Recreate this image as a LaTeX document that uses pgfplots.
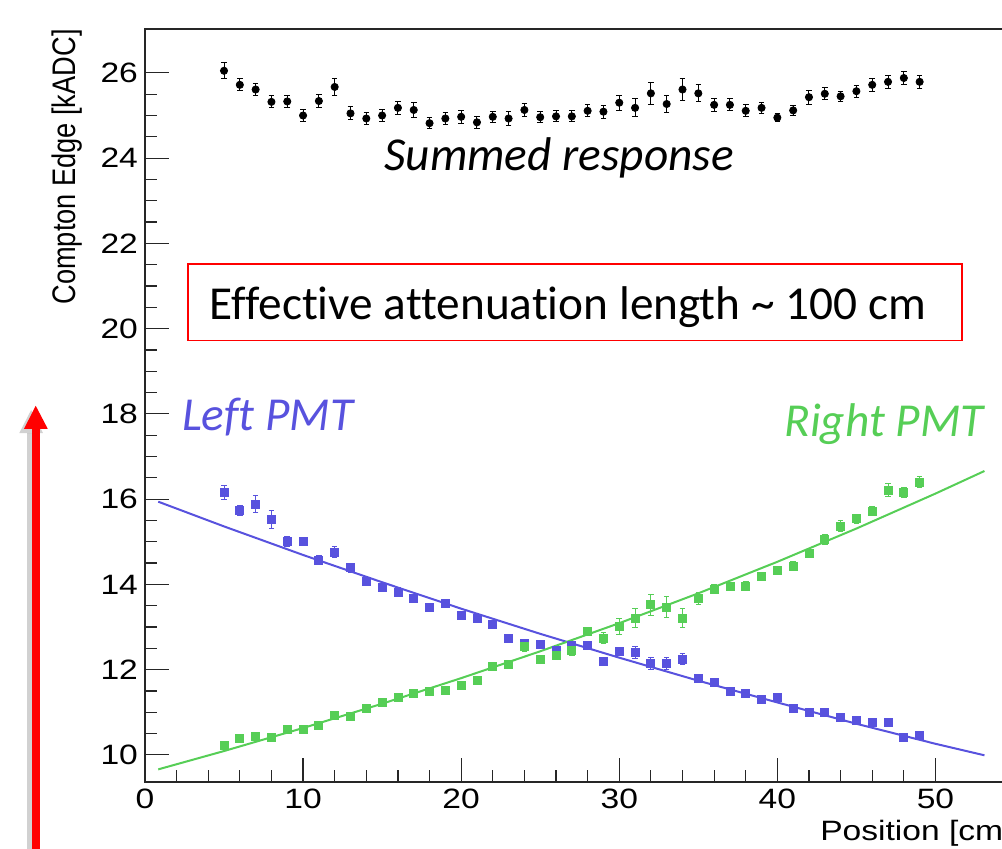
\documentclass[border=0pt]{standalone}
\usepackage{pgfplots}
\pgfplotsset{compat=1.18}
\usepackage{pgfplotstable}
\usepackage{fontspec}
\usepackage{graphicx}
\setmainfont{Liberation Sans}
\newfontfamily\rootfont[FakeStretch=1.2]{Liberation Sans}
\newfontfamily\calib[Ligatures={NoCommon,NoRare,NoContextual}]{Carlito}
\definecolor{lblue}{RGB}{88,82,222}
\definecolor{lgreen}{RGB}{86,206,86}

\pgfplotstableread{
x y e
5 26.05 0.19
6 25.72 0.14
7 25.61 0.15
8 25.32 0.14
9 25.33 0.14
10 25.00 0.13
11 25.34 0.16
12 25.67 0.19
13 25.05 0.15
14 24.93 0.13
15 25.00 0.14
16 25.18 0.16
17 25.13 0.17
18 24.82 0.13
19 24.93 0.14
20 24.97 0.15
21 24.84 0.14
22 24.97 0.13
23 24.93 0.16
24 25.13 0.16
25 24.96 0.13
26 24.98 0.13
27 24.98 0.13
28 25.11 0.14
29 25.09 0.15
30 25.30 0.18
31 25.18 0.21
32 25.52 0.26
33 25.27 0.20
34 25.61 0.26
35 25.52 0.20
36 25.25 0.15
37 25.25 0.14
38 25.11 0.14
39 25.18 0.13
40 24.95 0.10
41 25.12 0.12
42 25.43 0.16
43 25.51 0.14
44 25.45 0.12
45 25.57 0.14
46 25.72 0.15
47 25.79 0.16
48 25.88 0.16
49 25.79 0.15
}\summed

\pgfplotstableread{
x y e
5 16.16 0.17
6 15.74 0.12
7 15.88 0.20
8 15.53 0.21
9 15.01 0.12
10 15.01 0.10
11 14.57 0.10
12 14.76 0.13
13 14.39 0.10
14 14.08 0.07
15 13.93 0.07
16 13.82 0.10
17 13.68 0.08
18 13.46 0.07
19 13.56 0.08
20 13.28 0.07
21 13.21 0.08
22 13.07 0.07
23 12.73 0.07
24 12.62 0.07
25 12.60 0.06
26 12.46 0.07
27 12.56 0.06
28 12.57 0.06
29 12.20 0.06
30 12.43 0.10
31 12.41 0.14
32 12.15 0.14
33 12.15 0.14
34 12.25 0.14
35 11.80 0.07
36 11.70 0.06
37 11.50 0.05
38 11.45 0.05
39 11.29 0.05
40 11.35 0.05
41 11.10 0.05
42 11.00 0.05
43 11.00 0.04
44 10.88 0.04
45 10.80 0.04
46 10.77 0.04
47 10.77 0.03
48 10.40 0.04
49 10.45 0.04
}\leftpmt

\pgfplotstableread{
x y e
5 10.23 0.05
6 10.39 0.04
7 10.43 0.04
8 10.42 0.04
9 10.60 0.04
10 10.60 0.05
11 10.69 0.05
12 10.92 0.05
13 10.91 0.05
14 11.08 0.05
15 11.24 0.06
16 11.36 0.06
17 11.45 0.06
18 11.48 0.06
19 11.52 0.06
20 11.62 0.07
21 11.75 0.07
22 12.08 0.07
23 12.13 0.07
24 12.54 0.12
25 12.24 0.07
26 12.33 0.08
27 12.44 0.10
28 12.89 0.10
29 12.74 0.12
30 13.01 0.18
31 13.21 0.22
32 13.52 0.24
33 13.47 0.24
34 13.21 0.22
35 13.66 0.14
36 13.89 0.10
37 13.96 0.09
38 13.96 0.10
39 14.18 0.10
40 14.33 0.10
41 14.43 0.10
42 14.72 0.10
43 15.06 0.12
44 15.37 0.12
45 15.54 0.10
46 15.72 0.10
47 16.21 0.16
48 16.16 0.12
49 16.40 0.13
}\rightpmt

\begin{document}
\begin{tikzpicture}
\begin{axis}[
  scale only axis, width=434.8pt, height=376.4pt,
  xmin=0, xmax=55, ymin=9.37, ymax=27.03,
  clip=false,
  axis line style={line width=0.8pt, black!85},
  xtick={0,10,...,50}, minor x tick num=4,
  ytick={10,12,...,26}, minor y tick num=3,
  tick align=inside, xtick pos=bottom, ytick pos=left,
  major tick length=12pt, minor tick length=6pt,
  tick style={line width=0.6pt, black!85},
  /pgf/number format/assume math mode=true,
  ticklabel style={font=\rootfont\fontsize{14}{16}\selectfont},
  error bars/error bar style={line width=0.5pt},
  error bars/error mark options={line width=0.5pt, mark size=1.4pt, rotate=90},
]
% fit lines
\addplot[lblue, line width=1pt, no marks] coordinates {
 (0.84,15.94) (5,15.36) (10,14.69) (15,14.05) (20,13.43) (25,12.84)
 (30,12.28) (35,11.74) (40,11.23) (45,10.73) (50,10.26) (53.1,9.99)};
\addplot[lgreen, line width=1pt, no marks] coordinates {
 (0.84,9.66) (5,10.09) (10,10.63) (15,11.20) (20,11.80) (25,12.43)
 (30,13.09) (35,13.79) (40,14.53) (45,15.31) (50,16.13) (53.1,16.66)};
% data
\addplot[only marks, mark=*, mark size=1.8pt, black,
  error bars/.cd, y dir=both, y explicit]
  table[x=x, y=y, y error=e] {\summed};
\addplot[only marks, mark=square*, mark size=2pt, lblue,
  error bars/.cd, y dir=both, y explicit]
  table[x=x, y=y, y error=e] {\leftpmt};
\addplot[only marks, mark=square*, mark size=2pt, lgreen,
  error bars/.cd, y dir=both, y explicit]
  table[x=x, y=y, y error=e] {\rightpmt};
% annotations
\node[anchor=base west, inner sep=0, font=\calib\itshape\fontsize{23.65}{26}\selectfont]
  at (axis cs:15.12,23.72) {Summed response};
\draw[red, line width=0.7pt] (axis cs:2.72,21.512) rectangle (axis cs:51.68,19.72);
\node[anchor=base west, inner sep=0, font=\calib\fontsize{23.65}{26}\selectfont]
  at (axis cs:4.07,20.222) {Effective attenuation length \textasciitilde{} 100 cm};
\node[anchor=base west, inner sep=0, text=lblue, font=\calib\itshape\fontsize{23.65}{26}\selectfont]
  at (axis cs:2.32,17.60) {Left PMT};
\node[anchor=base west, inner sep=0, text=lgreen, font=\calib\itshape\fontsize{23.65}{26}\selectfont]
  at (axis cs:40.42,17.467) {Right PMT};
% axis titles
\node[anchor=base west, inner sep=0, font=\rootfont\fontsize{14}{16}\selectfont]
  at (axis cs:42.69,7.98) {Position [cm]};
\node[rotate=90, anchor=east, inner sep=0, font=\fontsize{13.6}{16}\selectfont]
  at ([xshift=-39pt]rel axis cs:0,1) {\scalebox{1}[1.2]{Compton Edge [kADC]}};
% red arrow with shadow
\fill[black, opacity=0.18] (axis cs:-7.45,7.0) rectangle (axis cs:-6.94,17.55);
\fill[black, opacity=0.18] (axis cs:-7.95,17.55) -- (axis cs:-6.45,17.55) -- (axis cs:-7.2,18.09) -- cycle;
\fill[red] (axis cs:-7.17,7.0) rectangle (axis cs:-6.66,17.65);
\fill[red] (axis cs:-7.65,17.65) -- (axis cs:-6.15,17.65) -- (axis cs:-6.91,18.19) -- cycle;
\coordinate (bl) at (axis cs:-9.17,7.795);
\coordinate (tr) at (axis cs:54.21,27.71);
\end{axis}
\pgfresetboundingbox
\path[use as bounding box] (bl) rectangle (tr);
\end{tikzpicture}
\end{document}
